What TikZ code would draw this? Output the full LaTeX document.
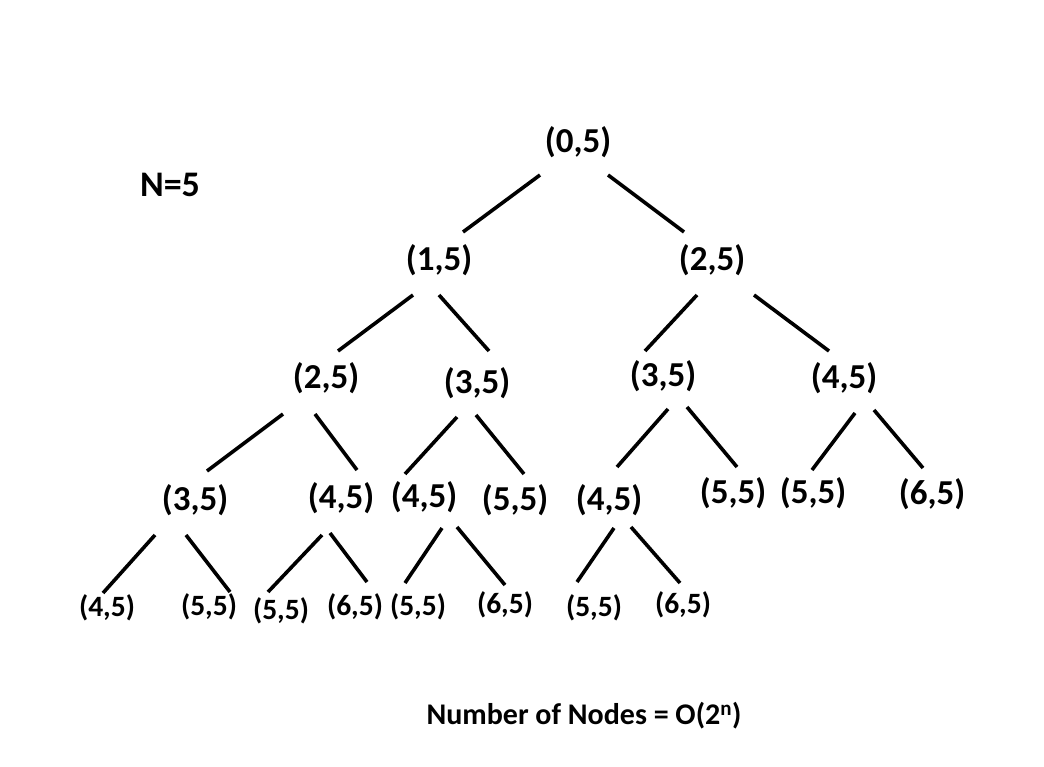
\documentclass[tikz,border=0pt]{standalone}
\usepackage{fontspec}
\setmainfont{Carlito}

\begin{document}
\begin{tikzpicture}[x=1pt,y=-1pt,
  pair/.style={font=\bfseries\fontsize{35}{40}\selectfont, inner sep=0pt},
  leaf/.style={font=\bfseries\fontsize{29.5}{34}\selectfont, inner sep=0pt},
  edge/.style={line width=3.6pt}]
  \useasboundingbox (0,0) rectangle (1044,766);
  \node[font=\bfseries\fontsize{36}{40}\selectfont, inner sep=0pt] (n) at (170,185) {N=5};
  % levels of the call tree
  \node[pair] (r) at (578,142) {(0,5)};
  \node[pair] (a) at (439,260) {(1,5)};
  \node[pair] (b) at (712,260) {(2,5)};
  \node[pair] (aa) at (326,378) {(2,5)};
  \node[pair] (ab) at (477,383) {(3,5)};
  \node[pair] (ba) at (663,376) {(3,5)};
  \node[pair] (bb) at (844,378) {(4,5)};
  \node[pair] (aaa) at (195,500) {(3,5)};
  \node[pair] (aab) at (341,498) {(4,5)};
  \node[pair] (aba) at (424,497) {(4,5)};
  \node[pair] (abb) at (515,500) {(5,5)};
  \node[pair] (baa) at (609,500) {(4,5)};
  \node[pair] (bab) at (733,493) {(5,5)};
  \node[pair] (bba) at (813,493) {(5,5)};
  \node[pair] (bbb) at (932,494) {(6,5)};
  \node[leaf] (aaaa) at (107,608) {(4,5)};
  \node[leaf] (aaab) at (209,607) {(5,5)};
  \node[leaf] (aaba) at (281,611) {(5,5)};
  \node[leaf] (aabb) at (355,607) {(6,5)};
  \node[leaf] (abaa) at (418,607) {(5,5)};
  \node[leaf] (abab) at (505,605) {(6,5)};
  \node[leaf] (baaa) at (594,608) {(5,5)};
  \node[leaf] (baab) at (683,605) {(6,5)};
  % calls
  \draw[edge] ([shift={(-38,33)}]r.center) -- ([shift={(24,-28)}]a.center);
  \draw[edge] ([shift={(30,33)}]r.center) -- ([shift={(-28,-28)}]b.center);
  \draw[edge] ([shift={(-26,35)}]a.center) -- ([shift={(12,-27)}]aa.center);
  \draw[edge] ([shift={(0,35)}]a.center) -- ([shift={(12,-32)}]ab.center);
  \draw[edge] ([shift={(-15,35)}]b.center) -- ([shift={(-18,-25)}]ba.center);
  \draw[edge] ([shift={(42,35)}]b.center) -- ([shift={(-15,-27)}]bb.center);
  \draw[edge] ([shift={(-43,36)}]aa.center) -- ([shift={(12,-29)}]aaa.center);
  \draw[edge] ([shift={(-11,36)}]aa.center) -- ([shift={(16,-28)}]aab.center);
  \draw[edge] ([shift={(-20,34)}]ab.center) -- ([shift={(-19,-23)}]aba.center);
  \draw[edge] ([shift={(-1,32)}]ab.center) -- ([shift={(9,-26)}]abb.center);
  \draw[edge] ([shift={(5,33)}]ba.center) -- ([shift={(8,-33)}]baa.center);
  \draw[edge] ([shift={(24,31)}]ba.center) -- ([shift={(4,-26)}]bab.center);
  \draw[edge] ([shift={(11,35)}]bb.center) -- ([shift={(-1,-23)}]bba.center);
  \draw[edge] ([shift={(30,32)}]bb.center) -- ([shift={(-9,-26)}]bbb.center);
  \draw[edge] ([shift={(-40,35)}]aaa.center) -- ([shift={(-4,-15)}]aaaa.center);
  \draw[edge] ([shift={(-9,35)}]aaa.center) -- ([shift={(21,-15)}]aaab.center);
  \draw[edge] ([shift={(-19,37)}]aab.center) -- ([shift={(-13,-19)}]aaba.center);
  \draw[edge] ([shift={(-11,35)}]aab.center) -- ([shift={(12,-25)}]aabb.center);
  \draw[edge] ([shift={(18,31)}]aba.center) -- ([shift={(-13,-24)}]abaa.center);
  \draw[edge] ([shift={(33,30)}]aba.center) -- ([shift={(0,-20)}]abab.center);
  \draw[edge] ([shift={(5,28)}]baa.center) -- ([shift={(-17,-26)}]baaa.center);
  \draw[edge] ([shift={(22,27)}]baa.center) -- ([shift={(-3,-22)}]baab.center);
  \node[font=\bfseries\fontsize{30}{36}\selectfont, inner sep=0pt] (count) at (584,716) {Number of Nodes = O(2\textsuperscript{n})};
\end{tikzpicture}
\end{document}
